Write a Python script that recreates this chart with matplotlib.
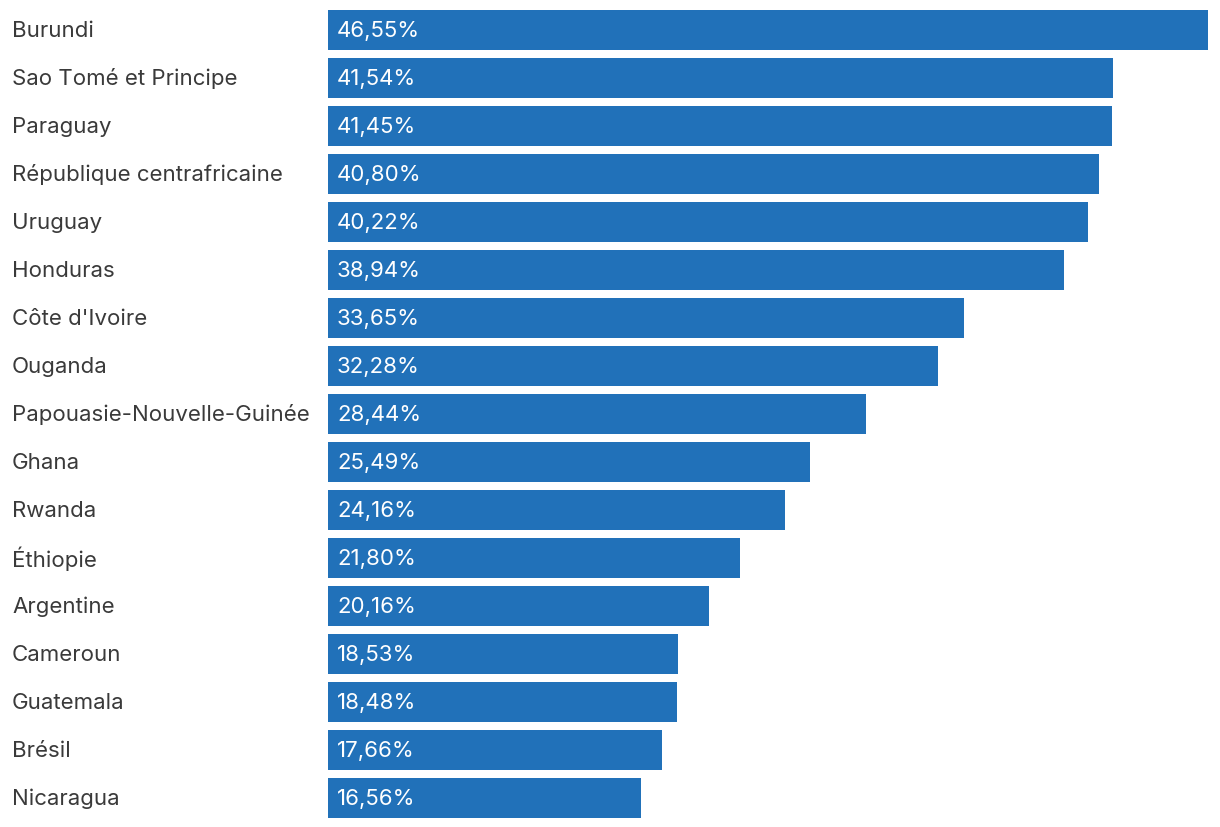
import matplotlib
matplotlib.use("Agg")
import matplotlib.pyplot as plt

# data
countries = ["Burundi", "Sao Tomé et Principe", "Paraguay", "République centrafricaine",
             "Uruguay", "Honduras", "Côte d'Ivoire", "Ouganda", "Papouasie-Nouvelle-Guinée",
             "Ghana", "Rwanda", "Éthiopie", "Argentine", "Cameroun", "Guatemala",
             "Brésil", "Nicaragua"]
values = [46.55, 41.54, 41.45, 40.80, 40.22, 38.94, 33.65, 32.28, 28.44,
          25.49, 24.16, 21.80, 20.16, 18.53, 18.48, 17.66, 16.56]

plt.rcParams['font.family'] = ['Inter', 'DejaVu Sans']

W, H = 1220, 828
fig = plt.figure(figsize=(W / 100, H / 100), dpi=100)
# axes spans bar area: x 328..1208 px, y 7..823 px
ax = fig.add_axes([328 / W, 1 - 823 / H, 880 / W, 816 / H])

bar_color = "#2171b9"
y = range(len(countries))
ax.barh(y, values, height=40 / 48, color=bar_color)
ax.set_xlim(0, max(values))
ax.set_ylim(len(countries) - 0.5, -0.5)
ax.axis("off")

for i, (name, v) in enumerate(zip(countries, values)):
    ax.text(-316 / 880 * max(values), i, name, ha="left", va="center",
            fontsize=16, color="#3a3a3a")
    ax.text(9 / 880 * max(values), i, f"{v:.2f}%".replace(".", ","),
            ha="left", va="center", fontsize=16, color="white")

plt.savefig("out.png", dpi=100)
